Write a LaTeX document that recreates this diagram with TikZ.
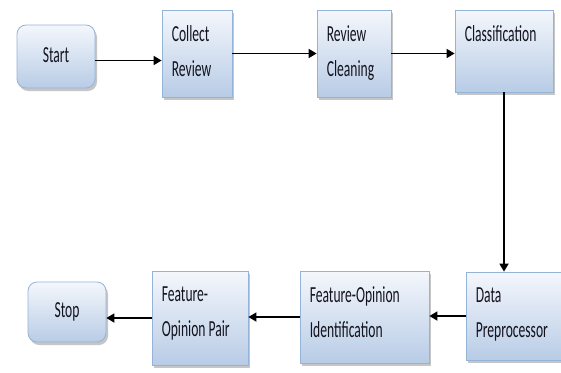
\documentclass[tikz,border=0pt]{standalone}
\usepackage{fontspec}
\usetikzlibrary{arrows.meta,shadows,calc}
\newfontfamily\boxfont{Carlito}
\newcommand{\sq}[1]{\scalebox{0.59}[1]{#1}}% the reference text is narrow
\definecolor{myboxtop}{RGB}{244,247,252}
\definecolor{myboxbot}{RGB}{184,204,230}
\definecolor{myboxline}{RGB}{149,179,215}
\definecolor{mytext}{RGB}{20,20,30}

\begin{document}
\begin{tikzpicture}
    [x=1pt,y=-1pt,
     procbox/.style={draw=myboxline,line width=0.8pt,top color=myboxtop,bottom color=myboxbot,
        drop shadow={shadow xshift=2pt,shadow yshift=-3pt,opacity=0.45},inner sep=0pt},
     termbox/.style={procbox,rounded corners=9pt,font=\boxfont\fontsize{23}{35}\selectfont,text=mytext},
     boxtext/.style={anchor=north west,inner sep=0pt,align=left,xshift=10pt,yshift=-16pt,
        font=\boxfont\fontsize{23}{35}\selectfont,text=mytext},
     flow/.style={line width=1.7pt,-{Triangle[length=8pt,width=9pt]}}]

    \useasboundingbox (0,0) rectangle (561,372);

    % top row
    \node[termbox,minimum width=78pt,minimum height=63pt] (start) at (56,56.5) {\raisebox{3pt}{\sq{Start}}\hspace{4pt}};
    \node[procbox,minimum width=70pt,minimum height=87pt,
        label={[boxtext]north west:{\sq{Collect}\\\sq{Review}}}] (collect) at (197,53.5) {};
    \node[procbox,minimum width=74pt,minimum height=87pt,
        label={[boxtext]north west:{\sq{Review}\\\sq{Cleaning}}}] (cleaning) at (354,53.5) {};
    \node[procbox,minimum width=98pt,minimum height=82pt,
        label={[boxtext]north west:{\sq{Classification}}}] (classif) at (504,51) {};

    % bottom row
    \node[procbox,minimum width=100pt,minimum height=88pt,
        label={[boxtext]north west:{\sq{Data}\\\sq{Preprocessor}}}] (prep) at (516,316) {};
    \node[procbox,minimum width=129pt,minimum height=92pt,
        label={[boxtext]north west:{\sq{Feature-Opinion}\\\sq{Identification}}}] (fopid) at (364.5,317) {};
    \node[procbox,minimum width=96pt,minimum height=94pt,
        label={[boxtext]north west:{\sq{Feature-}\\\sq{Opinion Pair}}}] (fopair) at (200,318) {};
    \node[termbox,minimum width=78pt,minimum height=60pt] (stop) at (67,312) {\raisebox{3pt}{\sq{Stop}}\hspace{6pt}};

    % connectors
    \draw[flow] ([yshift=-4pt]start.east) -- ([yshift=-4pt]start.east -| collect.west);
    \draw[flow] (collect.east) -- (collect.east -| cleaning.west);
    \draw[flow] (cleaning.east) -- (cleaning.east -| classif.west);
    \draw[flow] (classif.south) -- (classif.south |- prep.north);
    \draw[flow] (prep.west) -- (prep.west -| fopid.east);
    \draw[flow] (fopid.west) -- (fopid.west -| fopair.east);
    \draw[flow] (fopair.west) -- (fopair.west -| stop.east);
\end{tikzpicture}
\end{document}
